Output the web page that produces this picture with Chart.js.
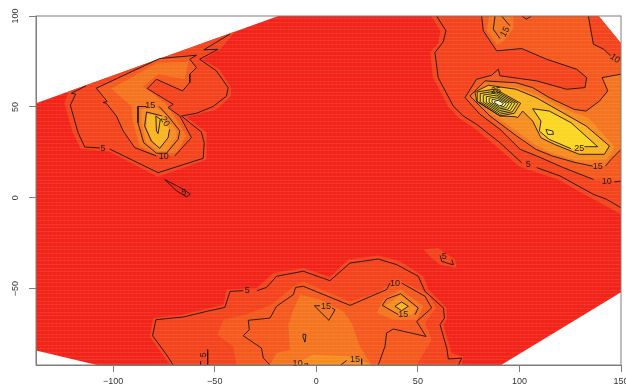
<!DOCTYPE html>
<html><head><meta charset="utf-8">
<style>html,body{margin:0;padding:0;background:#fff}canvas{display:block;filter:blur(0.45px)}</style>
<script src="https://cdn.jsdelivr.net/npm/chart.js@4"></script>
</head><body><canvas id="c" width="626" height="391"></canvas>
<script>
const xTickValues=[-100,-50,0,50,100,150];
const yTickValues=[-50,0,50,100];
const bandColors=['#F22419','#F4431D','#F5591E','#F5741F','#F78C20','#F9B522','#FBD623','#FEEB3A','#FFF6B0'];

const hull=[[-138,52],[-18.7,100],[139,100],[150,85],[150,-52],[91,-92],[-108,-92],[-138,-84]];

// filled bands: left group
const fillLeft1=[[-122,58.5],[-124,52],[-120,36],[-116,27],[-102,25.5],[-78,11.5],[-54,21],[-54,36],[-64,44.5],[-49,48.5],[-42,56],[-42,61],[-48,71],[-56,76],[-47,82],[-40,91.5]];
const fillLeft2=[[-108.3,60.3],[-77.1,76.6],[-59,78.4],[-62.3,76.2],[-59,71.6],[-62.3,68],[-62.3,63.4],[-65.9,58.8],[-78.7,65.2],[-83.2,60.1],[-70.5,51.4],[-73,49.6],[-67.2,45],[-61.5,33.1],[-69.7,23],[-78.7,23],[-89.4,27.6],[-95.1,36.8],[-98.4,45],[-103.4,52]];
const fillLeft3=[[-100.9,60],[-78.7,74],[-63,74.8],[-64.8,65.2],[-77.9,68],[-85.3,61.2],[-73.8,51.4],[-68.9,43],[-64,34],[-68.9,24.8],[-78.7,23.9],[-87,28.5],[-90.2,41.3],[-91,50.5]];
const fillLeft4=[[-86.1,48.7],[-86.1,41.3],[-83.7,30.3],[-77.9,25.7],[-73.8,25.7],[-68.9,33],[-68.9,36.7],[-74.6,46],[-78.7,49.6]];
const fillLeft5=[[-83.3,46],[-83.6,38.6],[-80.7,31.2],[-77.1,27.6],[-73,33],[-72.5,37.7],[-76.2,45]];

// filled bands: right group
const fillRight1=[[56.5,100],[61,92],[60,85],[56,80],[57.5,66],[65,50],[70,44],[77,39],[89,28],[100,17],[107,14.5],[119,10],[135,0],[150,-9],[150,85],[139,100]];
const fillRight2=[[81.4,100],[82.2,91.9],[88.8,80.8],[101.1,82.1],[113.4,76.2],[128.2,70.7],[133.1,66.1],[132.3,60.6],[123.2,59.7],[108.5,64.3],[90.4,67.1],[89.6,70.7],[86.3,67.4],[78.9,65.2],[73.2,55.1],[80.6,45.9],[90.4,37.7],[100.3,26.7],[108.5,23],[121.6,16.6],[136.4,10.1],[150,9.2],[150,76],[144.9,78.1],[141.3,81.8],[136.4,84.5],[133.9,100]];
const fillRightTop=[[85,100],[84,92],[89,84],[92,86],[97,93],[97,100]];
const fillRight3=[[150,68],[140.7,66.1],[143.5,58.8],[139.4,53.2],[132.8,47.7],[127,48.6],[114.7,55.1],[106.5,60.6],[98.3,63.3],[83,64.3],[75.6,56],[85.5,45],[98.6,34],[108.2,26.6],[116.4,22.9],[127.9,19.3],[136.1,17.4],[142.3,17.4],[145.1,21.1],[150,26.6]];
const fillRight4=[[98,61],[108,57],[125,47.5],[134,44],[147,28],[143,21],[128,20.5],[115,25],[108,29],[98,37],[86,47],[77,55.5],[84,62]];
const fillRight5=[[98.3,59.7],[108.2,55.1],[121.3,46.8],[132.8,39.5],[144.3,28.5],[141.8,23.9],[129.5,23.9],[117.2,29.4],[110.6,33],[106.5,42.2],[101.6,47.7],[99.1,44.1],[90.4,45],[78.9,53.3],[78.1,58.2],[84.7,61.9]];
const fillRight6=[[106.5,49],[114.7,47.7],[125.4,41.3],[138.5,28.1],[125.4,27],[114.7,32.1],[109.8,36.7],[110.6,42.2]];

// filled bands: bottom group
const fillBottom1=[[-82,-76.3],[-80.3,-66.2],[-66.3,-64.3],[-45.8,-58.8],[-44.2,-50.5],[-29.4,-49.6],[-21.2,-41.4],[-6.4,-38.6],[6.7,-43.6],[15.8,-34],[30.5,-31.8],[41.2,-34.9],[52.7,-43.2],[55.2,-50.5],[64.2,-60.6],[64.2,-67.1],[62.6,-69.8],[66.6,-85.4],[72.4,-87.6],[71.6,-92],[-72,-92]];
const fillPatch=[[52.7,-28.5],[60,-27.6],[68.3,-34],[69.1,-38.6],[60.9,-36.8],[56.8,-33.1]];
const fillBottom2=[[-39.3,-92],[-40.9,-81.8],[-48.8,-75.3],[-45.8,-67.1],[-35.2,-64.3],[-22,-58.8],[-11.3,-48.7],[-6.4,-46],[16.6,-57],[29.7,-52.4],[39.6,-44.7],[55.2,-53.3],[58.9,-60.6],[53.5,-68.9],[56.8,-78.1],[49.4,-92]];
const fillBottom3=[[-22.8,-92],[-19.6,-85.4],[-13,-83.6],[-13.8,-69.8],[-11.3,-61.6],[-8,-53.3],[1.8,-56],[13.3,-62.5],[17.4,-68.9],[21.5,-81.8],[27.2,-92]];
const fillBottom4=[[-11.5,-92],[-1.7,-86.3],[19.8,-87.3],[26.4,-92]];
const fillHot3=[[29.7,-63.4],[33,-56],[41.5,-50.5],[52.7,-59.7],[49.4,-67.1],[37.9,-67.1]];
const fillHot4=[[33.8,-59.7],[41.5,-53.3],[49.4,-60.6],[47,-64.3],[39.6,-64.3]];

// contour lines: left group
const lineL5a=[[-113.5,61.5],[-120.6,57.5],[-118.5,57],[-121.1,50.9],[-117.3,35.8],[-114,27.9],[-106.6,27.4]];
const lineL5b=[[-101.7,26.8],[-77.9,13.8],[-55.7,21.7],[-55.2,30.3],[-56.6,36.2],[-66.4,45],[-59,46.5],[-50.8,50.2],[-44.2,56],[-43.4,60.6],[-49.2,69.8],[-57.4,76.2],[-48.4,81.7],[-55.4,81.4],[-42.6,90]];
const lineL10=[[-78.7,23],[-89.4,27.6],[-95.1,36.8],[-98.4,45],[-103.4,52],[-105,52.4],[-103,53],[-108.3,60.3],[-77.1,76.6],[-59,78.4],[-62.3,76.2],[-59,71.6],[-62.3,68],[-62.3,63.4],[-65.9,58.8],[-78.7,65.2],[-83.2,60.1],[-70.5,51.4],[-73,49.6],[-67.2,45],[-61.5,33.1],[-69.7,23]];
const lineL15=[[-83.6,50.2],[-87.8,50.2],[-87.8,41.3],[-85,30.3],[-78.7,24.5],[-73.8,24.5],[-68,32.2],[-67.2,36.8],[-73,45],[-77.4,50.2]];
const lineL20a=[[-75.9,45],[-83.6,47.2],[-84.5,39.5],[-81.2,31.2],[-77.1,27.2],[-73,33],[-72.2,37.7]];
const lineL25=[[-79,45],[-78.7,36.8],[-77.9,35.3],[-76.8,43.2],[-79,45]];
const lineSliver=[[-74.6,10],[-66,5],[-62,2],[-64,0.5],[-69,4],[-74.6,10]];

// contour lines: right group
const lineR5a=[[59.2,100],[63.8,91.9],[62.5,85.8],[58.4,79.9],[60,66.1],[67.4,50.5],[72.3,45],[78.9,40.4],[90.4,30.3],[101.1,19.3]];
const lineR5b=[[108.5,16.6],[120,12],[136.4,1.9],[143,-0.9],[150,-5.5]];
const lineR10a=[[81.4,100],[82.2,91.9],[88.8,80.8],[101.1,82.1],[113.4,76.2],[128.2,70.7],[133.1,66.1],[132.3,60.6],[123.2,59.7],[108.5,64.3],[90.4,67.1],[89.6,70.7],[86.3,67.4],[78.9,65.2],[73.2,55.1],[80.6,45.9],[90.4,37.7],[100.3,26.7],[108.5,23],[121.6,16.6],[136.4,10.1]];
const lineR10b=[[146.7,8.7],[150,9.2]];
const lineR10c=[[133.9,100],[136.4,84.5],[141.3,81.8],[144.9,78.1]];
const lineR10d=[[101.1,100],[103.5,98.3],[106,100]];
const lineR15top=[[91.2,100],[95.3,94.6]];
const lineR15top2=[[88,100],[87.1,92.8],[90.4,87.6]];
const lineR15a=[[150,68],[140.7,66.1],[143.5,58.8],[139.4,53.2],[132.8,47.7],[127,48.6],[114.7,55.1],[106.5,60.6],[98.3,63.3],[83,64.3],[75.6,56],[85.5,45],[98.6,34],[108.2,26.6],[116.4,22.9],[127.9,19.3],[136.1,17.4]];
const lineR15b=[[142.3,17.4],[145.1,21.1],[150,26.6]];
const lineR20=[[98.3,59.7],[108.2,55.1],[121.3,46.8],[132.8,39.5],[144.3,28.5],[141.8,23.9],[129.5,23.9],[117.2,29.4],[110.6,33],[106.5,42.2],[101.6,47.7],[99.1,44.1],[97.8,44.6],[90.4,45],[78.9,53.3],[78.1,58.2],[84.7,61.9],[98.3,59.7]];
const lineR25a=[[132,28.1],[138.5,28.1],[125.4,41.3],[114.7,47.7],[106.5,49],[110.6,42.2],[109.8,36.7],[114.7,32.1],[125.4,27]];
const lineR30=[[113.1,37.6],[116.4,36.7],[116.7,34.9],[113.9,34.9],[113.1,37.6]];
const ring1=[[79.2,58.2],[88,59.8],[100.6,52],[97.5,46.5],[90.4,45],[79.2,52.9],[79.2,58.2]];
const ring2=[[80.7,57.3],[88.3,58.7],[99.2,52],[96.5,47.3],[90.3,46],[80.7,52.8],[80.7,57.3]];
const ring3=[[82.2,56.5],[88.6,57.6],[97.8,52],[95.4,48],[90.3,47],[82.2,52.7],[82.2,56.5]];
const ring4=[[83.7,55.6],[88.8,56.5],[96.3,52],[94.4,48.8],[90.2,48],[83.7,52.6],[83.7,55.6]];
const ring5=[[85.1,54.8],[89.1,55.5],[94.9,52],[93.4,49.5],[90.2,48.9],[85.1,52.5],[85.1,54.8]];
const ring6=[[86.5,54],[89.4,54.5],[93.5,52],[92.4,50.2],[90.1,49.8],[86.5,52.4],[86.5,54]];
const ring7=[[87.8,53.2],[89.6,53.6],[92.1,52],[91.5,50.9],[90.1,50.6],[87.8,52.2],[87.8,53.2]];

// contour lines: bottom group
const lineB5a=[[-70.5,-92],[-73.7,-86.4],[-80.6,-75.9],[-79,-67.1],[-65.5,-65.6],[-54,-62.5],[-45,-60.3],[-42.5,-51.5],[-36,-51.1]];
const lineB5b=[[-29.1,-51.1],[-24.5,-49.3],[-19.6,-43.2],[-6.4,-40.4],[6.7,-45.6],[16.6,-35.9],[30.5,-33.7],[39.6,-36.8],[50.2,-43.2],[53.5,-51.5],[62.6,-60.6],[63.1,-66.2],[60.9,-69.8],[64.2,-82.7],[65,-88.7],[71.6,-88.2],[70,-92]];
const lineB10a=[[-22.8,-92],[-26.1,-88.2],[-27,-82.7],[-36,-75.9],[-33,-72.6],[-33.5,-67.4],[-22.8,-66.2],[-19.6,-59.7],[-11.3,-53.3],[-10.2,-49.3],[-6.4,-48.7],[16.6,-59.2],[34.6,-50.5],[36.3,-46.9]];
const lineB10b=[[42,-46.9],[53.5,-54.2],[56.8,-60.6],[49.4,-68],[54,-76.3],[37.9,-72.2],[34.6,-74.4],[33.8,-81.8],[30.5,-92]];
const lineB10c=[[-6,-91.5],[-4.3,-91.3],[-4.3,-92]];
const lineB5c=[[-53.5,-83.6],[-53.5,-92]];
const lineB5d=[[-57,-90],[-57,-92]];
const lineHot15=[[40.4,-64.3],[32.5,-59.2],[34.6,-55.7],[41.5,-52.8],[50.2,-60.6],[48.6,-64.3]];
const lineHot20=[[38.7,-59.7],[42,-57.3],[45.3,-59.7],[42,-62.1],[38.7,-59.7]];
const lineMid15=[[1.8,-59.4],[-1,-59.4],[6.2,-67.4],[9.2,-61.6],[7.7,-60.6]];
const lineDrop=[[-6.4,-75],[-5.1,-75.3],[-5.6,-79.4],[-6.6,-76.3],[-6.4,-75]];
const lineB15a=[[12,-92],[15,-89.5]];
const lineB15b=[[22.3,-88.6],[22.3,-92]];
const lineSmall5=[[60.9,-31.6],[61.7,-34.9],[65,-36.2],[67.5,-36.8],[66.7,-34]];

const contourLabels=[
 ['5',-105,27.2,0],['10',-75.1,22.6,0],['15',-81.7,50.5,0],['20',-74.6,41.9,60],['5',-65.2,3,0],
 ['5',104.4,18.4,0],['10',143,8.7,0],['15',138.5,17,0],['25',129.5,27.2,0],['10',147,76.6,35],['15',92.9,91.3,-60],['25',88.5,59.2,0],
 ['5',-34,-51.1,0],['10',38.7,-46.9,0],['15',4.8,-59.7,0],['15',42.8,-64.3,0],['10',-9.2,-91.3,0],['15',19,-88.8,0],['5',-55.3,-86.4,-90],['5',63,-32.5,0]
];

const fillGroups=[
 [hull,0],[fillLeft1,1],[fillRight1,1],[fillBottom1,1],[fillPatch,1],
 [fillLeft2,2],[fillRight2,2],[fillBottom2,2],
 [fillLeft3,3],[fillRightTop,3],[fillRight3,3],[fillBottom3,3],[fillHot3,3],
 [fillLeft4,4],[fillRight4,4],[fillBottom4,4],[fillHot4,4],
 [fillLeft5,5],[fillRight5,5],[lineHot20,5],
 [fillRight6,6],[ring2,6],[lineR30,7],[ring4,7],[ring6,8]
];
const contourLines=[lineL5a,lineL5b,lineL10,lineL15,lineL20a,lineL25,lineSliver,lineR5a,lineR5b,lineR10a,lineR10b,lineR10c,lineR10d,lineR15top,lineR15top2,lineR15a,lineR15b,lineR20,lineR25a,lineR30,ring1,ring2,ring3,ring4,ring5,ring6,ring7,lineB5a,lineB5b,lineB10a,lineB10b,lineB10c,lineB5c,lineB5d,lineHot15,lineHot20,lineMid15,lineDrop,lineB15a,lineB15b,lineSmall5];

const toPts=a=>a.map(p=>({x:p[0],y:p[1]}));
function stripePattern(){
  const c=document.createElement('canvas');c.width=4;c.height=11;
  const g=c.getContext('2d');
  g.fillStyle='rgba(255,255,255,0.02)';g.fillRect(0,0,1,11);
  g.fillStyle='rgba(255,255,255,0.08)';[0,4,7].forEach(r=>g.fillRect(0,r,4,1));
  return g.createPattern(c,'repeat');
}
const datasets=[];
fillGroups.forEach(([poly,lvl])=>datasets.push({data:toPts(poly),showLine:true,fill:'shape',backgroundColor:bandColors[lvl],borderWidth:0,pointRadius:0,tension:0}));
datasets.push({data:toPts(hull),showLine:true,fill:'shape',backgroundColor:stripePattern(),borderWidth:0,pointRadius:0,tension:0});
contourLines.forEach(l=>datasets.push({data:toPts(l),showLine:true,fill:false,borderColor:'#1c1410',borderWidth:0.9,pointRadius:0,tension:0,borderJoinStyle:'miter'}));
datasets.forEach((d,i)=>d.order=datasets.length-i);

const overlay={id:'overlay',afterDatasetsDraw(ch){
  const {ctx,chartArea:a,scales:{x,y}}=ch;
  ctx.save();
  ctx.font='9px "Liberation Sans"';ctx.fillStyle='#221a14';ctx.textAlign='center';ctx.textBaseline='middle';
  contourLabels.forEach(([t,vx,vy,rot])=>{
    ctx.save();ctx.translate(x.getPixelForValue(vx),y.getPixelForValue(vy));ctx.rotate(rot*Math.PI/180);ctx.fillText(t,0,0);ctx.restore();
  });
  ctx.strokeStyle='#7d7d7d';ctx.lineWidth=1;
  ctx.strokeRect(a.left,a.top,a.right-a.left,a.bottom-a.top);
  ctx.restore();
}};
const minus=v=>String(v).replace('-','\u2212');
new Chart(document.getElementById('c'),{
  type:'scatter',
  data:{datasets},
  plugins:[overlay],
  options:{
    responsive:false,animation:false,events:[],
    layout:{padding:{top:16,right:5,bottom:0,left:0}},
    plugins:{legend:{display:false},tooltip:{enabled:false},title:{display:false}},
    scales:{
      x:{type:'linear',min:-138,max:150,
        afterBuildTicks:s=>{s.ticks=xTickValues.map(v=>({value:v}))},
        afterFit:s=>{s.height=26;s.paddingLeft=0;s.paddingRight=0},
        grid:{drawOnChartArea:false,tickLength:7,color:'#7d7d7d'},border:{color:'#7d7d7d'},
        ticks:{autoSkip:false,maxRotation:0,minRotation:0,padding:4,color:'#333',font:{family:'Liberation Sans',size:9},callback:minus}},
      y:{type:'linear',min:-92,max:100,
        afterBuildTicks:s=>{s.ticks=yTickValues.map(v=>({value:v}))},
        afterFit:s=>{s.width=36;s.paddingTop=0;s.paddingBottom=0},
        grid:{drawOnChartArea:false,tickLength:7,color:'#7d7d7d'},border:{color:'#7d7d7d'},
        ticks:{autoSkip:false,minRotation:90,maxRotation:90,padding:6,crossAlign:'center',color:'#333',font:{family:'Liberation Sans',size:9},callback:minus}}
    }
  }
});
</script></body></html>
